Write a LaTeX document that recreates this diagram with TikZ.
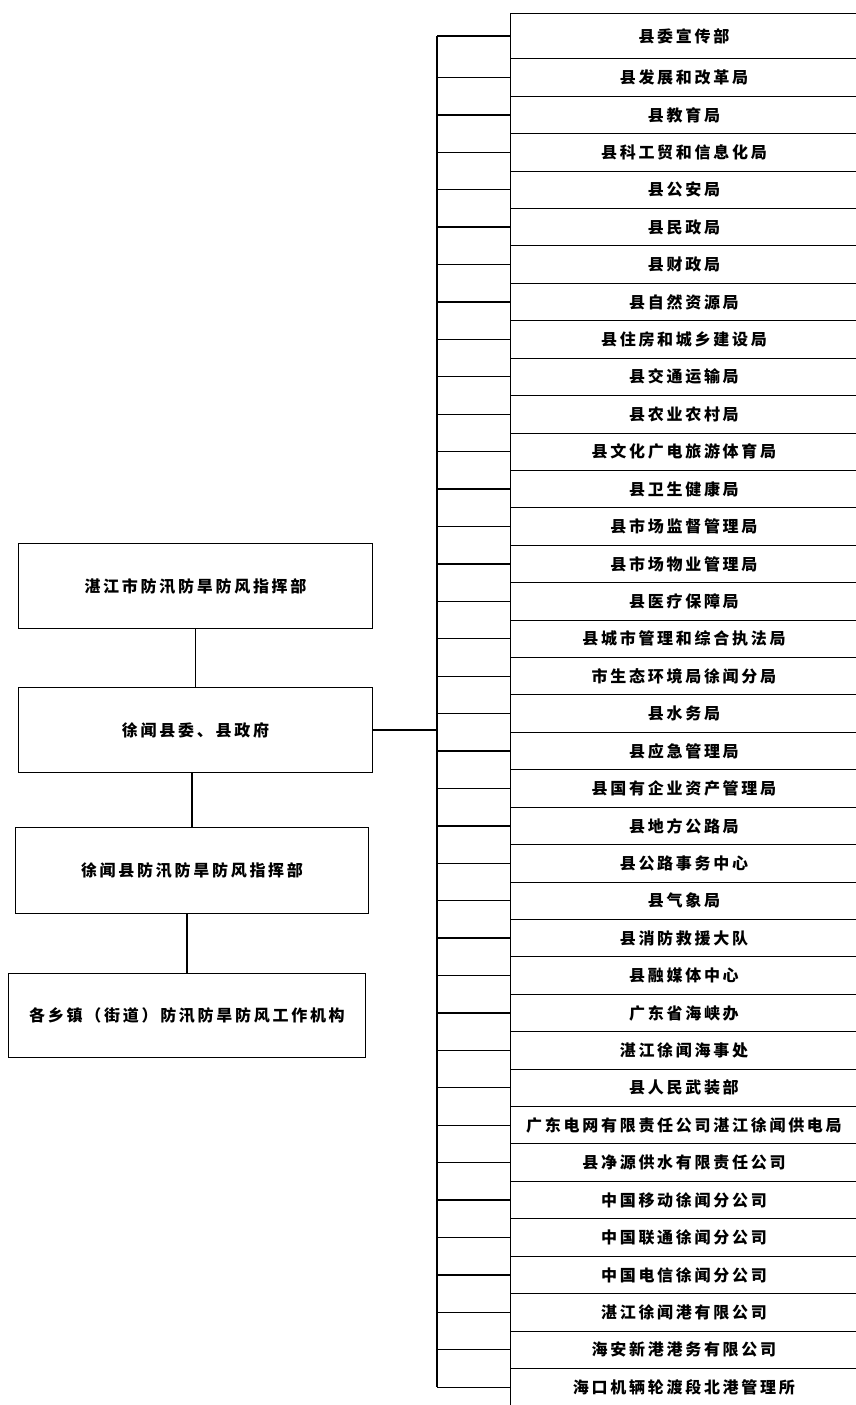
\documentclass[tikz,border=0pt]{standalone}
\usepackage{fontspec}
\newfontfamily\cjk[LetterSpace=17]{Noto Sans CJK SC}
\begin{document}
\begin{tikzpicture}[x=1pt,y=-1pt,
  txt/.style={font=\cjk\bfseries\fontsize{16}{16}\selectfont},
  rbox/.style={draw, line width=0.9pt, inner sep=0pt, minimum width=347pt,
    minimum height=37.42pt, anchor=north west, txt},
  lbox/.style={draw, line width=1pt, inner sep=0pt, anchor=north west, txt},
  link/.style={line width=1.3pt}]
\useasboundingbox (0,0) rectangle (855,1405);
\fill[white] (0,0) rectangle (855,1405);
\coordinate (trunkx) at (437,0);
% right column
\node[rbox, minimum height=45.3pt] (r1) at (510,13) {县委宣传部};
\foreach \t [count=\i from 2] in {县发展和改革局,县教育局,县科工贸和信息化局,县公安局,县民政局,县财政局,县自然资源局,县住房和城乡建设局,县交通运输局,县农业农村局,县文化广电旅游体育局,县卫生健康局,县市场监督管理局,县市场物业管理局,县医疗保障局,县城市管理和综合执法局,市生态环境局徐闻分局,县水务局,县应急管理局,县国有企业资产管理局,县地方公路局,县公路事务中心,县气象局,县消防救援大队,县融媒体中心,广东省海峡办,湛江徐闻海事处,县人民武装部,广东电网有限责任公司湛江徐闻供电局,县净源供水有限责任公司,中国移动徐闻分公司,中国联通徐闻分公司,中国电信徐闻分公司,湛江徐闻港有限公司,海安新港港务有限公司,海口机辆轮渡段北港管理所}{
  \pgfmathsetmacro{\ty}{58.3+37.42*(\i-2)}
  \node[rbox] (r\i) at (510,\ty) {\t};
}
\foreach \i in {1,...,37}{
  \draw[link] (r\i.west -| trunkx) -- (r\i.west);
}
\draw[link] (r1.west -| trunkx) -- (r37.west -| trunkx);
% left column
\node[lbox, minimum width=354pt, minimum height=85pt] (A) at (18,543) {湛江市防汛防旱防风指挥部};
\node[lbox, minimum width=354pt, minimum height=85pt] (B) at (18,687) {徐闻县委、县政府};
\node[lbox, minimum width=353pt, minimum height=86pt] (C) at (15,827) {徐闻县防汛防旱防风指挥部};
\node[lbox, minimum width=357pt, minimum height=84pt] (D) at (8,973) {各乡镇（街道）防汛防旱防风工作机构};
\draw[link] (A.south) -- (A.south |- B.north);
\draw[link] (C.north) -- (C.north |- B.south);
\draw[link] (D.north) -- (D.north |- C.south);
\draw[link] (B.east) -- (B.east -| trunkx);
\end{tikzpicture}
\end{document}
